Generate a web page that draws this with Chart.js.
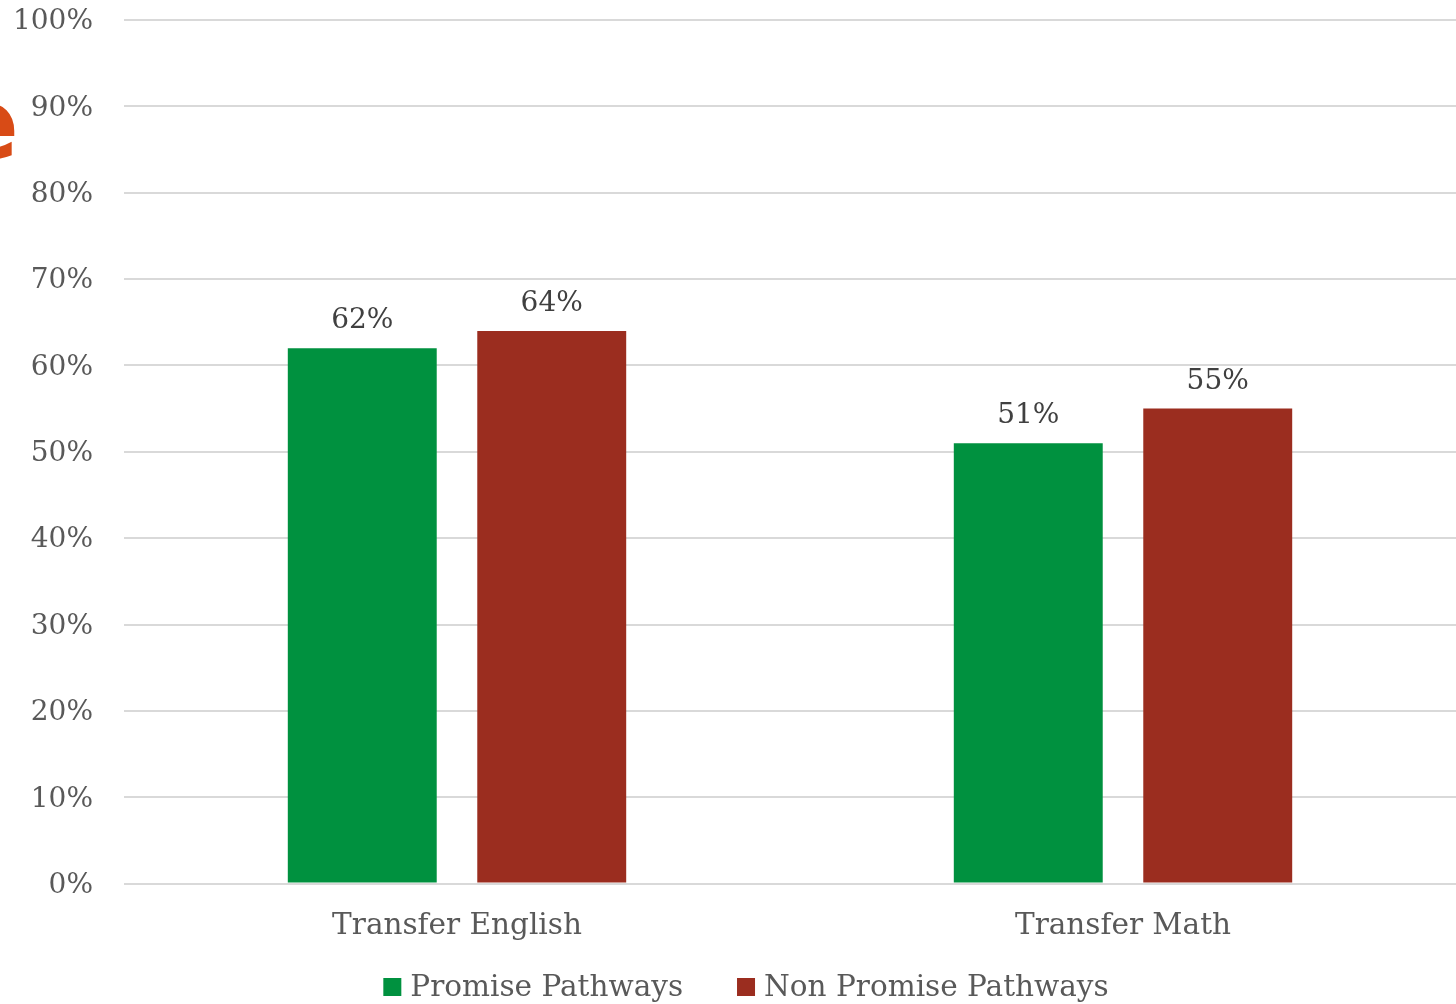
<!DOCTYPE html>
<html>
<head>
<meta charset="utf-8">
<script src="https://cdn.jsdelivr.net/npm/chart.js@4.4.1/dist/chart.umd.min.js"></script>
<style>
  html, body { margin: 0; padding: 0; background: #fff; }
  #wrap { width: 1456px; height: 1004px; }
</style>
</head>
<body>
<div id="wrap"><canvas id="myChart" width="1456" height="1004"></canvas></div>
<script>
const categorias = ["Transfer English", "Transfer Math"];
const promise = [62, 51];
const nonPromise = [64, 55];
const seriesNames = ["Promise Pathways", "Non Promise Pathways"];
const seriesColors = ["#00913F", "#9B2D1F"];
const tickMax = 100;
const tickStep = 10;

const fontFamily = "'DejaVu Serif', 'Liberation Serif', serif";

// rótulos de valor acima das barras
const valueLabels = {
  id: "valueLabels",
  afterDatasetsDraw(chart) {
    const ctx = chart.ctx;
    ctx.save();
    ctx.font = "28px " + fontFamily;
    ctx.fillStyle = "#404040";
    ctx.textAlign = "center";
    ctx.textBaseline = "bottom";
    chart.data.datasets.forEach((ds, i) => {
      chart.getDatasetMeta(i).data.forEach((bar, j) => {
        ctx.fillText(ds.data[j] + "%", bar.x, bar.y - 13);
      });
    });
    ctx.restore();
  },
};

// legenda desenhada à mão (espaçamento igual ao original)
const bottomLegend = {
  id: "bottomLegend",
  afterDraw(chart) {
    const ctx = chart.ctx;
    const box = 18, gapText = 9, gapItem = 54, cy = 987;
    ctx.save();
    ctx.font = "29.5px " + fontFamily;
    ctx.textBaseline = "middle";
    const widths = chart.data.datasets.map((ds) => ctx.measureText(ds.label).width);
    const total = widths.reduce((a, w) => a + box + gapText + w, 0) + gapItem * (widths.length - 1);
    let x = 746 - total / 2;
    chart.data.datasets.forEach((ds, i) => {
      ctx.fillStyle = ds.backgroundColor;
      ctx.fillRect(x, cy - box / 2, box, box);
      x += box + gapText;
      ctx.fillStyle = "#595959";
      ctx.fillText(ds.label, x, cy + 1);
      x += widths[i] + gapItem;
    });
    ctx.restore();
  },
};

// pedaço do logo cortado na borda esquerda
const logoPiece = {
  id: "logoPiece",
  afterDraw(chart) {
    const ctx = chart.ctx;
    ctx.save();
    ctx.font = "bold 100px 'DejaVu Sans', sans-serif";
    ctx.fillStyle = "#D84B16";
    ctx.textAlign = "right";
    ctx.textBaseline = "alphabetic";
    ctx.fillText("e", 19, 159);
    ctx.restore();
  },
};

const ctx = document.getElementById("myChart");
const grafico = new Chart(ctx, {
  type: "bar",
  data: {
    labels: categorias,
    datasets: [
      {
        label: seriesNames[0],
        data: promise,
        backgroundColor: seriesColors[0],
        categoryPercentage: 0.569,
        barPercentage: 0.786,
      },
      {
        label: seriesNames[1],
        data: nonPromise,
        backgroundColor: seriesColors[1],
        categoryPercentage: 0.569,
        barPercentage: 0.786,
      },
    ],
  },
  options: {
    responsive: false,
    animation: false,
    layout: { padding: { top: 20, right: 0, left: 0, bottom: 43 } },
    scales: {
      x: {
        grid: { display: false },
        border: { display: false },
        ticks: {
          color: "#595959",
          font: { family: fontFamily, size: 29.5 },
          padding: 17,
        },
      },
      y: {
        min: 0,
        max: tickMax,
        afterFit: (scale) => {
          scale.width = 124;
          scale.paddingTop = 0;
          scale.paddingBottom = 0;
        },
        grid: { color: "#d9d9d9", lineWidth: 2, drawTicks: false },
        border: { display: false },
        ticks: {
          stepSize: tickStep,
          color: "#595959",
          font: { family: fontFamily, size: 28 },
          padding: 31,
          labelOffset: 2,
          callback: (v) => v + "%",
        },
      },
    },
    plugins: {
      legend: { display: false },
      tooltip: { enabled: false },
    },
  },
  plugins: [valueLabels, bottomLegend, logoPiece],
});
</script>
</body>
</html>
